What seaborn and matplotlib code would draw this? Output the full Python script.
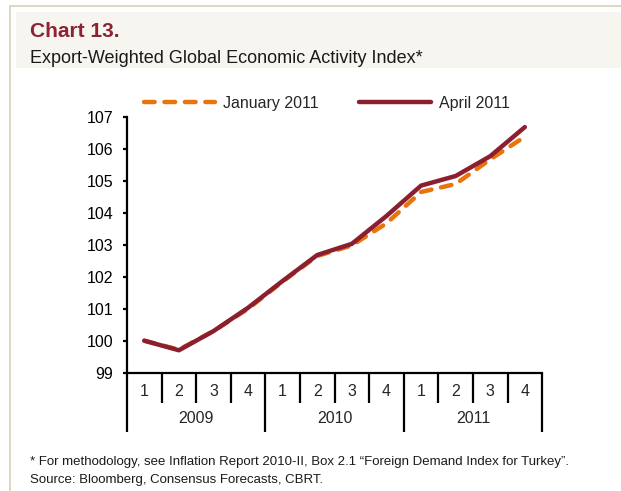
import matplotlib
matplotlib.use("Agg")
import matplotlib.pyplot as plt
from matplotlib.patches import Rectangle
from matplotlib.lines import Line2D
import numpy as np
import pandas as pd
import seaborn as sns

years = ["2009", "2010", "2011"]
quarters = ["1", "2", "3", "4"]
january_2011 = [100.0, 99.72, 100.3, 101.0, 101.85, 102.65, 102.98, 103.67, 104.65, 104.9, 105.67, 106.38]
april_2011 = [100.0, 99.70, 100.3, 101.03, 101.87, 102.68, 103.03, 103.9, 104.85, 105.15, 105.77, 106.68]

sns.set_style("white")
plt.rcParams['font.family'] = ['Liberation Sans', 'DejaVu Sans']

n = len(april_2011)
pos = np.arange(n) + 0.5
df = pd.DataFrame({
    "pos": np.concatenate([pos, pos]),
    "value": january_2011 + april_2011,
    "series": ["January 2011"] * n + ["April 2011"] * n,
})

ORANGE = "#e8740c"
WINE = "#8b1f2f"
DASH = (2.4, 2.2)

fig = plt.figure(figsize=(6.21, 4.91), dpi=100)
# page decoration
fig.add_artist(Line2D([0.016, 1], [0.988, 0.988], color="#d8cfb9", lw=1.2))
fig.add_artist(Line2D([0.016, 0.016], [0, 0.988], color="#d8cfb9", lw=1.2))
fig.add_artist(Rectangle((0.026, 0.8615), 0.974, 0.114, color="#f7f5f0", lw=0))
fig.text(0.049, 0.9246, "Chart 13.", color="#8b2332", fontsize=15, fontweight="bold", va="baseline")
fig.text(0.049, 0.872, "Export-Weighted Global Economic Activity Index*", color="#1a1a1a", fontsize=13, va="baseline")
fig.text(0.049, 0.052, "* For methodology, see Inflation Report 2010-II, Box 2.1 \u201cForeign Demand Index for Turkey\u201d.",
         fontsize=9.5, color="#1a1a1a", va="baseline")
fig.text(0.049, 0.017, "Source: Bloomberg, Consensus Forecasts, CBRT.", fontsize=9.5, color="#1a1a1a", va="baseline")

ax = fig.add_axes([0.2045, 0.241, 0.6685, 0.521])
sns.lineplot(data=df, x="pos", y="value", hue="series", style="series",
             palette={"January 2011": ORANGE, "April 2011": WINE},
             dashes={"January 2011": DASH, "April 2011": ""},
             hue_order=["January 2011", "April 2011"],
             linewidth=3.2, ax=ax, legend=False)
for l in ax.lines:
    if l.get_color() == WINE:
        l.set_zorder(3)
        l.set_solid_capstyle("round")
    else:
        l.set_dash_capstyle("round")

ax.set_xlim(0, n)
ax.set_ylim(99, 107)
ax.set_yticks(range(99, 108))
ax.set_xticks([])
ax.set_xlabel("")
ax.set_ylabel("")
ax.tick_params(axis="y", length=3, width=1.6, pad=7, labelsize=11.5, left=True, colors="black")
for s in ["top", "right"]:
    ax.spines[s].set_visible(False)
for s in ["left", "bottom"]:
    ax.spines[s].set_linewidth(1.6)
    ax.spines[s].set_color("black")

trans = ax.get_xaxis_transform()
for i in range(n + 1):
    low = -0.232 if i % 4 == 0 else -0.1185
    ax.plot([i, i], [0, low], transform=trans, color="black", lw=1.6, clip_on=False, solid_capstyle="butt")
for i in range(n):
    ax.text(i + 0.5, -0.072, quarters[i % 4], transform=trans, ha="center", va="center", fontsize=11.5)
for j, y in enumerate(years):
    ax.text(j * 4 + 2, -0.181, y, transform=trans, ha="center", va="center", fontsize=11.5)

handles = [Line2D([], [], color=ORANGE, lw=3.2, dashes=DASH, dash_capstyle="round"),
           Line2D([], [], color=WINE, lw=3.2, solid_capstyle="round")]
fig.legend(handles, ["January 2011", "April 2011"], loc="center", bbox_to_anchor=(0.526, 0.79),
           ncol=2, frameon=False, fontsize=11.5, handlelength=4.5, columnspacing=2.5, handletextpad=0.5)

fig.savefig("out.png", dpi=100)
